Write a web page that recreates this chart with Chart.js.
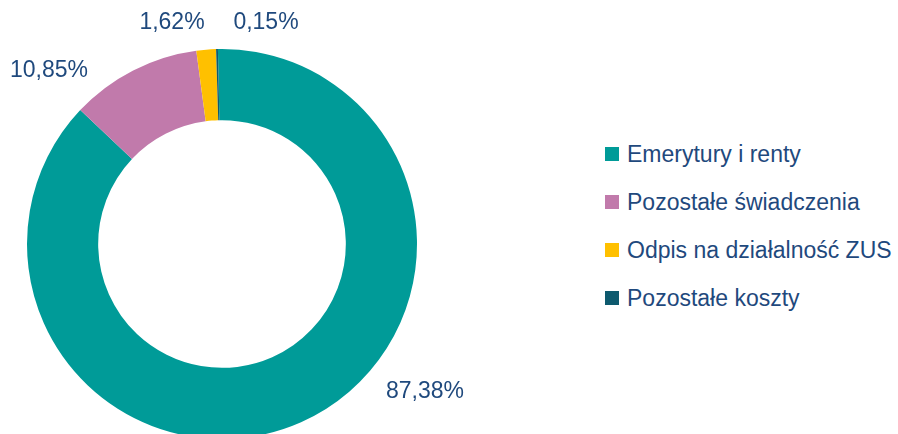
<!DOCTYPE html>
<html>
<head>
<meta charset="utf-8">
<script src="https://cdn.jsdelivr.net/npm/chart.js@4.4.1/dist/chart.umd.min.js"></script>
<style>
    html, body { margin: 0; padding: 0; background: #fff; overflow: hidden; }
    body { width: 898px; height: 434px; position: relative; font-family: "Liberation Sans", Arial, sans-serif; }
    #wrap { position: absolute; left: 0; top: 0; width: 500px; height: 444px; }
    #legend { position: absolute; left: 605px; top: 130px; }
    .row { height: 48px; display: flex; align-items: center; color: #1F497D; font-size: 23px; white-space: nowrap; }
    .box { width: 14px; height: 14px; margin-right: 8px; flex: none; }
</style>
</head>
<body>
<div id="wrap"><canvas id="costChart"></canvas></div>
<div id="legend"></div>
<script>
const categories = ['Emerytury i renty', 'Pozostałe świadczenia', 'Odpis na działalność ZUS', 'Pozostałe koszty'];
const shares = [87.38, 10.85, 1.62, 0.15];
const sliceColors = ['#009B98', '#C17AAB', '#FFC000', '#0E5A6E'];

// label centres
const labelSpots = [[425, 392], [49, 71], [172, 23], [266, 23]];

function fmt(v) {
    return v.toFixed(2).replace('.', ',') + '%';
}

const outsideLabels = {
    id: 'outsideLabels',
    afterDraw(chart) {
        const ctx = chart.ctx;
        ctx.save();
        ctx.font = '23px "Liberation Sans", Arial, sans-serif';
        ctx.fillStyle = '#1F497D';
        ctx.textAlign = 'center';
        ctx.textBaseline = 'middle';
        chart.data.datasets[0].data.forEach((v, i) => {
            const p = labelSpots[i];
            ctx.fillText(fmt(v), p[0], p[1]);
        });
        ctx.restore();
    }
};

new Chart(document.getElementById('costChart'), {
    type: 'doughnut',
    data: {
        labels: categories,
        datasets: [{
            data: shares,
            backgroundColor: sliceColors,
            borderWidth: 0
        }]
    },
    options: {
        responsive: true,
        maintainAspectRatio: false,
        animation: false,
        cutout: '63.5%',
        rotation: -1.2,
        layout: { padding: { left: 27, top: 49, right: 83, bottom: 5 } },
        plugins: {
            legend: { display: false },
            tooltip: { enabled: false }
        }
    },
    plugins: [outsideLabels]
});

const legend = document.getElementById('legend');
categories.forEach((name, i) => {
    const row = document.createElement('div');
    row.className = 'row';
    row.innerHTML = '<div class="box" style="background:' + sliceColors[i] + '"></div><span>' + name + '</span>';
    legend.appendChild(row);
});
</script>
</body>
</html>
